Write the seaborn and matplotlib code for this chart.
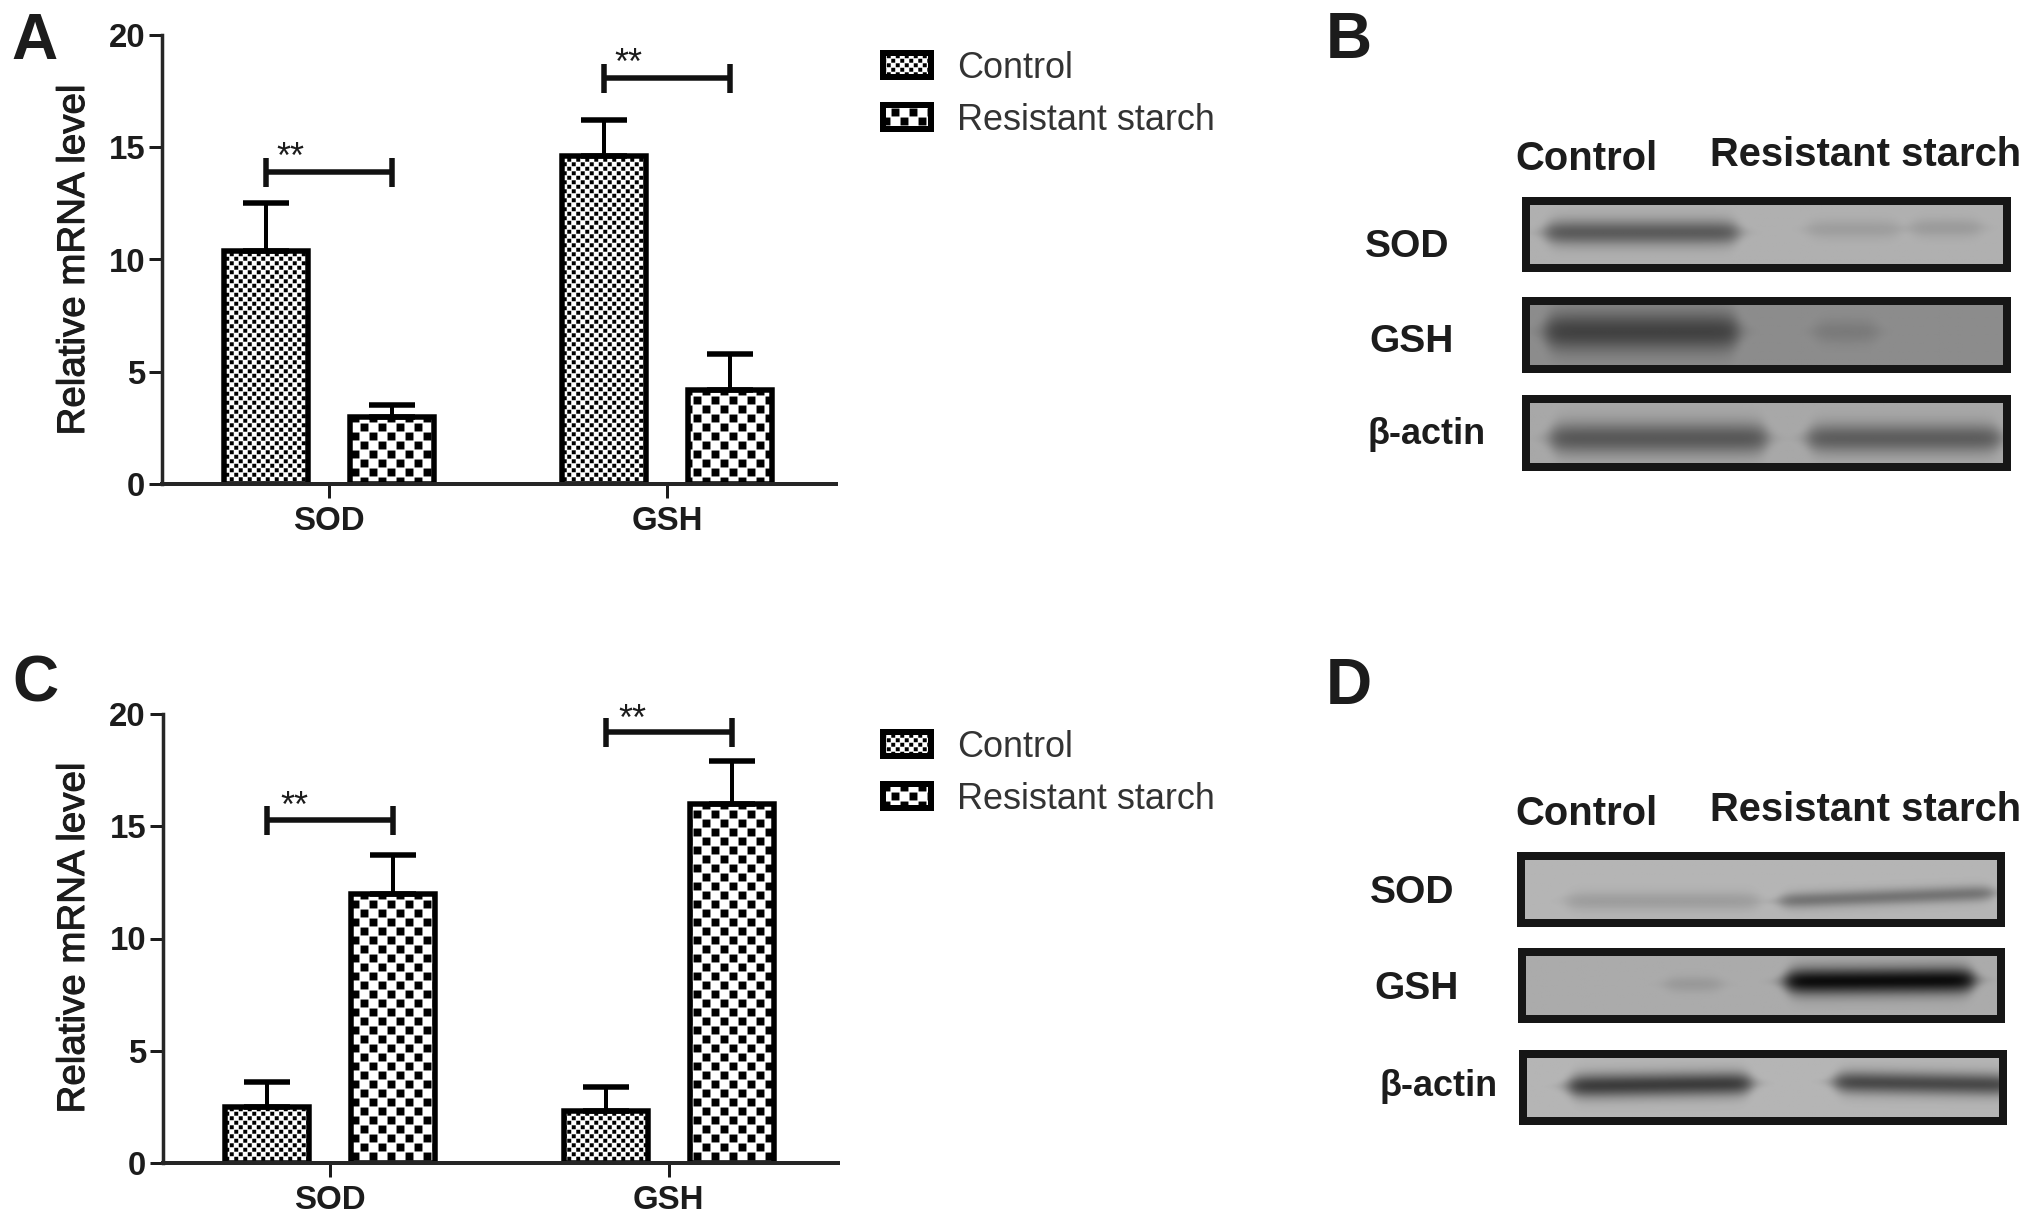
import numpy as np
import pandas as pd
import matplotlib
matplotlib.use("Agg")
import matplotlib.pyplot as plt
import matplotlib.hatch as mhatch
import matplotlib.patheffects as pe
from matplotlib.patches import Patch
from matplotlib.path import Path
import seaborn as sns

genes = ["SOD", "GSH"]
groups = ["Control", "Resistant starch"]

a_control = [10.4, 14.6]
a_starch = [3.0, 4.2]
a_control_top = [12.5, 16.2]
a_starch_top = [3.5, 5.8]
a_brackets = [13.9, 18.1]

c_control = [2.5, 2.3]
c_starch = [12.0, 16.0]
c_control_top = [3.6, 3.4]
c_starch_top = [13.7, 17.9]
c_brackets = [15.3, 19.2]

yticks = [0, 5, 10, 15, 20]

W, H, DPI = 2031, 1221, 108
PT = 72 / DPI  # one pixel in points


class CheckHatch(mhatch.HatchPatternBase):
    # checker tiles, X coarse and x fine
    def __init__(self, pattern, density):
        self.cells = 12 * pattern.count("X") + 24 * pattern.count("x")
        self.num_vertices = self.cells ** 2 // 2 * 5
        self.num_codes = self.num_vertices

    def set_vertices_and_codes(self, vertices, codes):
        k = 0
        s = 1 / self.cells
        m = s * 0.06
        for i in range(self.cells):
            for j in range(self.cells):
                if (i + j) % 2:
                    continue
                x0, y0 = i * s + m, j * s + m
                x1, y1 = x0 + s - 2 * m, y0 + s - 2 * m
                vertices[k:k + 5] = [(x0, y0), (x1, y0), (x1, y1), (x0, y1), (x0, y0)]
                codes[k:k + 5] = [Path.MOVETO, Path.LINETO, Path.LINETO, Path.LINETO, Path.CLOSEPOLY]
                k += 5


mhatch._hatch_types[:] = [CheckHatch]

sns.set_style("ticks")
plt.rcParams["font.family"] = ["Liberation Sans", "DejaVu Sans"]
plt.rcParams["hatch.linewidth"] = 0.0
INK = "#1c1c1c"

fig = plt.figure(figsize=(W / DPI, H / DPI), dpi=DPI)


def px_axes(x0, y0, x1, y1):
    return fig.add_axes([x0 / W, 1 - y1 / H, (x1 - x0) / W, (y1 - y0) / H])


def px_text(x, y, s, **kw):
    kw.setdefault("color", INK)
    kw.setdefault("va", "center")
    return fig.text(x / W, 1 - y / H, s, **kw)


def bar_panel(rect, control, starch, control_top, starch_top, brackets, legend_xy, star_dx):
    ax = px_axes(*rect)
    df = pd.DataFrame({
        "gene": genes * 2,
        "group": [groups[0]] * 2 + [groups[1]] * 2,
        "level": control + starch,
    })
    sns.barplot(data=df, x="gene", y="level", hue="group", hue_order=groups,
                palette=["white", "white"], saturation=1, width=0.744, gap=0.33,
                edgecolor="black", linewidth=5.5 * PT, errorbar=None, legend=False, ax=ax)
    tops = [control_top, starch_top]
    marks = ["x", "X"]
    centers = []
    for cont, top, mark in zip(ax.containers, tops, marks):
        row = []
        for bar, t in zip(cont, top):
            bar.set_hatch(mark)
            cx = bar.get_x() + bar.get_width() / 2
            row.append(cx)
            h = bar.get_height()
            ax.errorbar(cx, h, yerr=[[0], [t - h]], color="black", elinewidth=4 * PT,
                        capsize=23 * PT, capthick=5.5 * PT, zorder=1)
        centers.append(row)

    for i, y in enumerate(brackets):
        x0, x1 = centers[0][i], centers[1][i]
        ax.plot([x0, x1], [y, y], color="#111111", lw=5.5 * PT, marker="|", ms=29 * PT,
                mew=5.5 * PT, solid_capstyle="butt", clip_on=False)
        ax.annotate("**", xy=(x0, y), xytext=(star_dx[0] * PT, star_dx[1] * PT),
                    textcoords="offset points", fontsize=36 * PT, color=INK,
                    ha="left", va="center")

    ax.set_xlim(-0.494, 1.5)
    ax.set_ylim(0, 20)
    ax.set_yticks(yticks)
    ax.set_xlabel("")
    ax.set_ylabel("")
    sns.despine(ax=ax)
    ax.spines["left"].set_linewidth(3.5 * PT)
    ax.spines["bottom"].set_linewidth(4 * PT)
    ax.tick_params(axis="y", length=13 * PT, width=3 * PT, pad=4 * PT, labelsize=33 * PT, color=INK)
    ax.tick_params(axis="x", length=14 * PT, width=3 * PT, pad=8 * PT, labelsize=33 * PT, color=INK)
    for lab in ax.get_xticklabels() + ax.get_yticklabels():
        lab.set_fontweight("bold")
        lab.set_color(INK)

    handles = [Patch(facecolor="white", edgecolor="black", hatch=m, linewidth=6 * PT) for m in marks]
    leg = fig.legend(handles, groups, loc="upper left",
                     bbox_to_anchor=(legend_xy[0] / W, 1 - legend_xy[1] / H),
                     frameon=False, fontsize=36 * PT, handlelength=1.34, handleheight=0.66,
                     handletextpad=0.72, labelspacing=0.46, borderpad=0, borderaxespad=0)
    for t in leg.get_texts():
        t.set_color("#333333")
    return ax


bar_panel((162, 35, 836, 484), a_control, a_starch, a_control_top, a_starch_top,
          a_brackets, (883, 51), (10, 13))
bar_panel((163, 714, 838, 1163), c_control, c_starch, c_control_top, c_starch_top,
          c_brackets, (883, 730), (13, 12))

thick = [pe.withStroke(linewidth=0.7, foreground=INK)]
for y in (260, 938):
    px_text(74, y, "Relative mRNA level", rotation=90, ha="center",
            fontsize=38.5 * PT, path_effects=thick)
px_text(35, 42, "A", ha="center", fontsize=64 * PT, fontweight="bold")
px_text(35, 684, "C", ha="center", fontsize=64 * PT, fontweight="bold")
px_text(1349, 41, "B", ha="center", fontsize=64 * PT, fontweight="bold")
px_text(1349, 687, "D", ha="center", fontsize=64 * PT, fontweight="bold")


def blot(rect, bg, bands):
    # bands: x0, x1, y at x0, y at x1, sigma, darkness, all as fractions of the frame
    x0, y0, x1, y1 = rect
    ax = px_axes(x0 + 4, y0 + 4, x1 - 4, y1 - 4)
    xx, yy = np.meshgrid(np.linspace(0, 1, x1 - x0), np.linspace(0, 1, y1 - y0))
    img = np.full(xx.shape, bg, dtype=float)
    for bx0, bx1, by0, by1, sig, dark in bands:
        mid = by0 + (by1 - by0) * (xx - bx0) / (bx1 - bx0)
        edge = 0.25 * (1 + np.tanh((xx - bx0) / 0.02)) * (1 + np.tanh((bx1 - xx) / 0.02))
        width = sig * np.sqrt(edge) + 0.02
        img -= dark * edge * np.exp(-((yy - mid) / width) ** 2)
    ax.imshow(np.clip(img, 0, 1), cmap="gray", vmin=0, vmax=1, aspect="auto", interpolation="bilinear")
    ax.set_xticks([])
    ax.set_yticks([])
    for sp in ax.spines.values():
        sp.set_linewidth(8 * PT)
        sp.set_color("#161616")


blot((1522, 197, 2011, 272), 0.69, [(0.04, 0.44, 0.47, 0.47, 0.17, 0.33),
                                    (0.585, 0.775, 0.42, 0.42, 0.12, 0.07),
                                    (0.80, 0.945, 0.40, 0.40, 0.12, 0.08)])
blot((1522, 297, 2011, 373), 0.55, [(0.04, 0.44, 0.45, 0.45, 0.27, 0.29),
                                    (0.60, 0.73, 0.45, 0.45, 0.16, 0.07)])
blot((1522, 395, 2011, 471), 0.66, [(0.05, 0.50, 0.58, 0.58, 0.22, 0.31),
                                    (0.585, 0.985, 0.58, 0.58, 0.20, 0.29)])

blot((1517, 852, 2005, 927), 0.71, [(0.095, 0.495, 0.68, 0.68, 0.12, 0.09),
                                    (0.54, 0.985, 0.68, 0.56, 0.10, 0.25)])
blot((1518, 948, 2005, 1023), 0.67, [(0.30, 0.415, 0.48, 0.48, 0.10, 0.07),
                                     (0.55, 0.945, 0.44, 0.42, 0.18, 0.62)])
blot((1519, 1050, 2007, 1125), 0.71, [(0.095, 0.475, 0.48, 0.44, 0.16, 0.47),
                                      (0.65, 1.02, 0.42, 0.46, 0.15, 0.42)])

for y in (159, 814):
    px_text(1586, y, "Control", ha="center", fontsize=40 * PT, fontweight="bold")
for y in (155, 810):
    px_text(1866, y, "Resistant starch", ha="center", fontsize=40 * PT, fontweight="bold")

blot_labels = [(1407, 247, "SOD"), (1412, 342, "GSH"), (1427, 435, "β-actin"),
               (1412, 893, "SOD"), (1417, 989, "GSH"), (1439, 1087, "β-actin")]
for x, y, s in blot_labels:
    px_text(x, y, s, ha="center", fontsize=(36 if "actin" in s else 39) * PT, fontweight="bold")

fig.savefig("out.png", dpi=DPI)
